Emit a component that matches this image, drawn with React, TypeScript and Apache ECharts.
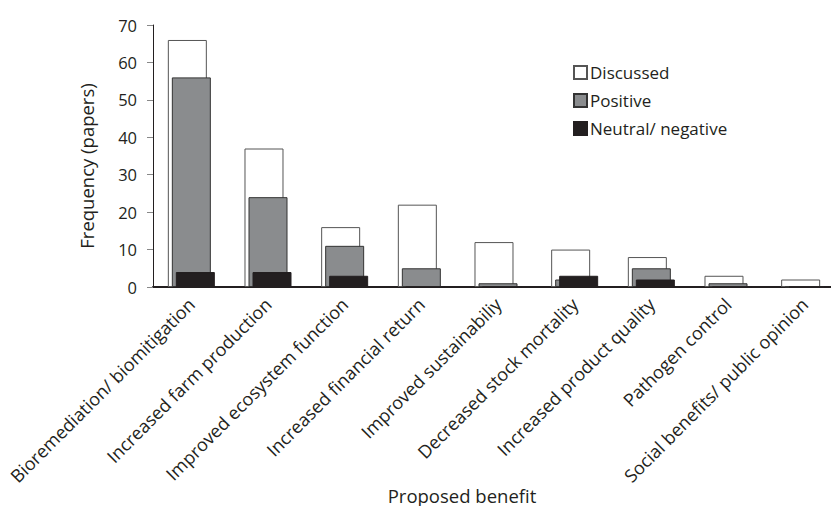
import React, { useEffect, useRef } from "react";
import * as echarts from "echarts";

const categories = [
  "Bioremediation/ biomitigation",
  "Increased farm production",
  "Improved ecosystem function",
  "Increased financial return",
  "Improved sustainabiliy",
  "Decreased stock mortality",
  "Increased product quality",
  "Pathogen control",
  "Social benefits/ public opinion",
];
const discussed = [66, 37, 16, 22, 12, 10, 8, 3, 2];
const positive = [56, 24, 11, 5, 1, 2, 5, 1, 0];
const neutralNegative = [4, 4, 3, 0, 0, 3, 2, 0, 0];
const yTicks = { min: 0, max: 70, interval: 10 };

const FONT = "Open Sans";
const TEXT = "#231f20";

export default function App() {
  const ref = useRef<HTMLDivElement>(null);
  useEffect(() => {
    document.body.style.margin = "0";
    const chart = echarts.init(ref.current!, null, { renderer: "svg" });
    chart.setOption({
      animation: false,
      textStyle: { fontFamily: FONT },
      grid: {
        left: 153,
        right: -12,
        top: 25,
        bottom: 219,
        containLabel: false,
        outerBoundsMode: "none",
      },
      legend: {
        orient: "vertical",
        left: 573,
        top: 64,
        padding: 0,
        itemWidth: 13,
        itemHeight: 13,
        itemGap: 11,
        icon: "rect",
        textStyle: { fontFamily: FONT, fontSize: 17, color: TEXT, padding: [0, 0, 0, -2] },
        data: ["Discussed", "Positive", "Neutral/ negative"],
      },
      xAxis: {
        type: "category",
        data: categories,
        axisLine: { lineStyle: { color: TEXT, width: 2 } },
        axisTick: { show: false },
        axisLabel: {
          interval: 0,
          rotate: 45,
          margin: 14,
          fontSize: 18,
          fontFamily: FONT,
          color: TEXT,
        },
      },
      yAxis: {
        type: "value",
        min: yTicks.min,
        max: yTicks.max,
        interval: yTicks.interval,
        splitLine: { show: false },
        axisLine: { show: true, lineStyle: { color: TEXT, width: 1 } },
        axisTick: { show: true, length: 6, lineStyle: { color: "#888" } },
        axisLabel: { margin: 16, fontSize: 16.5, fontFamily: FONT, color: TEXT },
      },
      graphic: [
        {
          type: "text",
          x: 86,
          y: 166,
          rotation: Math.PI / 2,
          style: {
            text: "Frequency (papers)",
            fontFamily: FONT,
            fontSize: 18.5,
            fill: TEXT,
            align: "center",
            verticalAlign: "middle",
          },
        },
        {
          type: "text",
          x: 462,
          y: 495,
          style: {
            text: "Proposed benefit",
            fontFamily: FONT,
            fontSize: 18.5,
            fill: TEXT,
            align: "center",
            verticalAlign: "middle",
          },
        },
      ],
      series: [
        {
          name: "Discussed",
          type: "bar",
          data: discussed,
          barWidth: 39,
          barGap: "-89.74%",
          itemStyle: { color: "#ffffff", borderColor: "#555555", borderWidth: 1 },
        },
        {
          name: "Positive",
          type: "bar",
          data: positive,
          barWidth: 39,
          barGap: "-89.74%",
          itemStyle: { color: "#8a8c8e", borderColor: "#333333", borderWidth: 1 },
        },
        {
          name: "Neutral/ negative",
          type: "bar",
          data: neutralNegative,
          barWidth: 39,
          barGap: "-89.74%",
          itemStyle: { color: TEXT, borderColor: TEXT, borderWidth: 1 },
        },
      ],
    });
    return () => chart.dispose();
  }, []);
  return <div ref={ref} style={{ width: 831, height: 506 }} />;
}
